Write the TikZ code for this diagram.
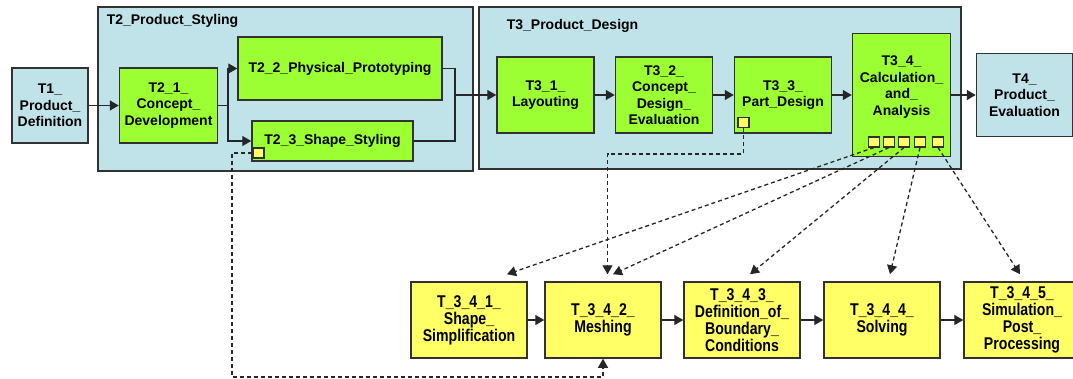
\documentclass[tikz,border=0pt]{standalone}
\usepackage{fontspec}
\setmainfont{Liberation Sans}
\newfontfamily\narrowsans[FakeStretch=0.83]{Liberation Sans}
\usepackage{tikz}
\usetikzlibrary{positioning, arrows.meta}

\definecolor{phaseblue}{RGB}{192,227,233}
\definecolor{taskgreen}{RGB}{155,255,51}
\definecolor{subyellow}{RGB}{255,255,102}
\definecolor{edgegray}{RGB}{50,50,50}

\begin{document}
\begin{tikzpicture}
		[
		x=1pt, y=1pt,
		font=\bfseries\fontsize{14}{16.5}\selectfont,
		box/.style ={rectangle, draw=edgegray, line width=1.5pt, align=center, inner sep=2pt},
		phase/.style ={box, fill=phaseblue},
		task/.style ={box, fill=taskgreen},
		subtask/.style ={box, fill=subyellow, minimum width=116pt, minimum height=76pt, font=\narrowsans\bfseries\fontsize{17}{17}\selectfont},
		port/.style ={rectangle, draw=edgegray, line width=1.1pt, fill=subyellow, minimum width=11pt, minimum height=10pt, inner sep=0pt},
		edge/.style ={draw=black!85, line width=1.4pt},
		flow/.style ={edge, -{Triangle[length=9pt, width=10pt]}},
		dep/.style ={flow, line width=1.3pt, dash pattern=on 4pt off 3pt}
		]
		\useasboundingbox (0,0) rectangle (1073,-378);
		\node (t2) [phase, minimum width=375pt, minimum height=164pt] at (285.5,-89) {};
		\node (t3) [phase, minimum width=482pt, minimum height=162pt] at (720,-88) {};
		\node (t2title) [anchor=west] at ([xshift=6pt, yshift=-14.5pt]t2.north west) {T2\_Product\_Styling};
		\node (t3title) [anchor=west] at ([xshift=25pt, yshift=-20pt]t3.north west) {T3\_Product\_Design};
		\node (t1) [phase, minimum width=76pt, minimum height=75pt] at (50,-105.5) {T1\_\\Product\_\\Definition};
		\node (t21) [task, minimum width=98pt, minimum height=75pt, right=30pt of t1] {T2\_1\_\\Concept\_\\Development};
		\node (t22) [task, minimum width=204pt, minimum height=63pt] at (340,-68.5) {T2\_2\_Physical\_Prototyping};
		\node (t23) [task, minimum width=161pt, minimum height=40pt] at (332.5,-141) {T2\_3\_Shape\_Styling};
		\node (t31) [task, minimum width=97pt, minimum height=76pt] at (545.5,-95) {T3\_1\_\\Layouting};
		\node (t32) [task, minimum width=97pt, minimum height=76pt, right=20pt of t31] {T3\_2\_\\Concept\_\\Design\_\\Evaluation};
		\node (t33) [task, minimum width=97pt, minimum height=76pt, right=20.5pt of t32] {T3\_3\_\\Part\_Design};
		\node (t34) [task, minimum width=98pt, minimum height=123pt, right=19.5pt of t33] {};
		\node (t34txt) [align=center] at ([yshift=8pt]t34.center) {T3\_4\_\\Calculation\_\\and\_\\Analysis};
		\node (t4) [phase, minimum width=96pt, minimum height=83pt, right=24.5pt of t34] {T4\_\\Product\_\\Evaluation};
		\node (t341) [subtask] at (469,-320) {T\_3\_4\_1\_\\Shape\_\\Simplification};
		\node (t342) [subtask, right=16.5pt of t341] {T\_3\_4\_2\_\\Meshing};
		\node (t343) [subtask, right=21.5pt of t342] {T\_3\_4\_3\_\\Definition\_of\_\\Boundary\_\\Conditions};
		\node (t344) [subtask, right=22.5pt of t343] {T\_3\_4\_4\_\\Solving};
		\node (t345) [subtask, right=22.5pt of t344] {T\_3\_4\_5\_\\Simulation\_\\Post\_\\Processing};
		\node (p23) [port] at (258.5,-153) {};
		\node (p33) [port] at (743.5,-122.5) {};
		\foreach \i/\x in {1/874, 2/889, 3/904, 4/920, 5/938}
			\node (p34\i) [port] at (\x,-142) {};
		\coordinate (split) at (228,-105.5);
		\coordinate (join) at (455,-95);
		\coordinate (bend33) at (607.5,-154);
		\coordinate (loop23) at (232,-377);
		\draw[flow] (t1) -- (t21);
		\draw[edge] (t21.east) -- (split);
		\draw[flow] (split) |- (t22.west);
		\draw[flow] (split) |- (t23.west);
		\draw[edge] (t22.east) -| (join);
		\draw[edge] (t23.east) -| (join);
		\draw[flow] (join) -- (t31.west);
		\draw[flow] (t31) -- (t32);
		\draw[flow] (t32) -- (t33);
		\draw[flow] (t33) -- (t34);
		\draw[flow] (t34.east |- t4.west) -- (t4.west);
		\draw[flow] (t341) -- (t342);
		\draw[flow] (t342) -- (t343);
		\draw[flow] (t343) -- (t344);
		\draw[flow] (t344) -- (t345);
		\draw[dep] (p33.south) |- (bend33) -- ([xshift=4.5pt, yshift=7pt]t342.north);
		\draw[dep] (p23.west) -| (loop23) -| (t342.south);
		\foreach \i/\s in {1/38, 2/10, 3/8, 4/8, 5/-2}
			\draw[dep] (p34\i.south) -- ([xshift=\s pt, yshift=7pt]t34\i.north);
	\end{tikzpicture}
\end{document}
